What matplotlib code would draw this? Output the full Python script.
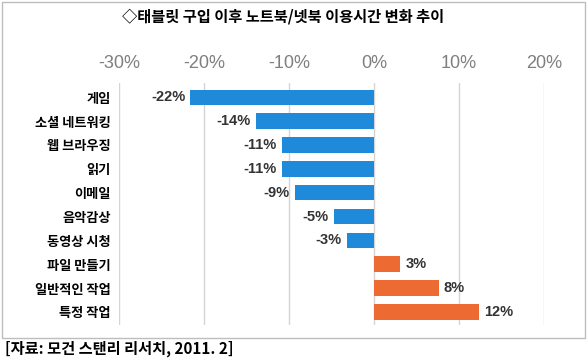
import numpy as np
import matplotlib.pyplot as plt
from matplotlib.patches import Rectangle

# data
categories = ['게임', '소셜 네트워킹', '웹 브라우징', '읽기', '이메일', '음악감상',
              '동영상 시청', '파일 만들기', '일반적인 작업', '특정 작업']
values = [-21.6, -13.9, -10.8, -10.8, -9.3, -4.7, -3.2, 3.1, 7.6, 12.4]  # % change
ticks = [-30, -20, -10, 0, 10, 20]

title = '◇태블릿 구입 이후 노트북/넷북 이용시간 변화 추이'
source = '[자료: 모건 스탠리 리서치, 2011. 2]'

blue = '#1f8ad9'
orange = '#ed6a33'
kr = ['Noto Sans CJK KR', 'DejaVu Sans']

fig = plt.figure(figsize=(5.88, 3.62), dpi=100)
ax = fig.add_axes([119 / 588, 1 - 325 / 362, (544 - 119) / 588, (325 - 83) / 362])

y = np.arange(len(categories))
colors = [blue if v < 0 else orange for v in values]
ax.barh(y, values, height=0.65, color=colors, zorder=3)

for yi, v in zip(y, values):
    lab = '%d%%' % round(v)
    if v < 0:
        ax.text(v - 0.6, yi, lab, ha='right', va='center', fontsize=10.5,
                fontweight='bold', color='#333333', family='Liberation Sans')
    else:
        ax.text(v + 0.6, yi, lab, ha='left', va='center', fontsize=10.5,
                fontweight='bold', color='#333333', family='Liberation Sans')

ax.set_xlim(-30, 20)
ax.set_ylim(len(categories) - 0.45, -0.6)
ax.set_xticks(ticks)
ax.set_xticklabels(['%d%%' % t for t in ticks], family='Liberation Sans',
                   fontsize=13, color='#7f7f7f')
ax.xaxis.tick_top()
ax.tick_params(axis='x', length=0, pad=8)
ax.set_yticks(y)
ax.set_yticklabels(categories, family=kr, fontsize=9.5, fontweight='bold', color='black')
ax.tick_params(axis='y', length=0, pad=6)
ax.grid(axis='x', color='#d4d4d4', linewidth=1, zorder=0)
for s in ax.spines.values():
    s.set_visible(False)

# outer frame
fig.patches.append(Rectangle((2 / 588, 1 - 338 / 362), 583 / 588, 336 / 362,
                             transform=fig.transFigure, fill=False,
                             edgecolor='#bdbdbd', linewidth=1))

fig.text(283 / 588, 1 - 17 / 362, title, ha='center', va='center', fontsize=11,
         fontweight='bold', family=kr)
fig.text(5 / 588, 1 - 349 / 362, source, ha='left', va='center', fontsize=11,
         fontweight='bold', family=kr)

fig.savefig('out.png', dpi=100)
